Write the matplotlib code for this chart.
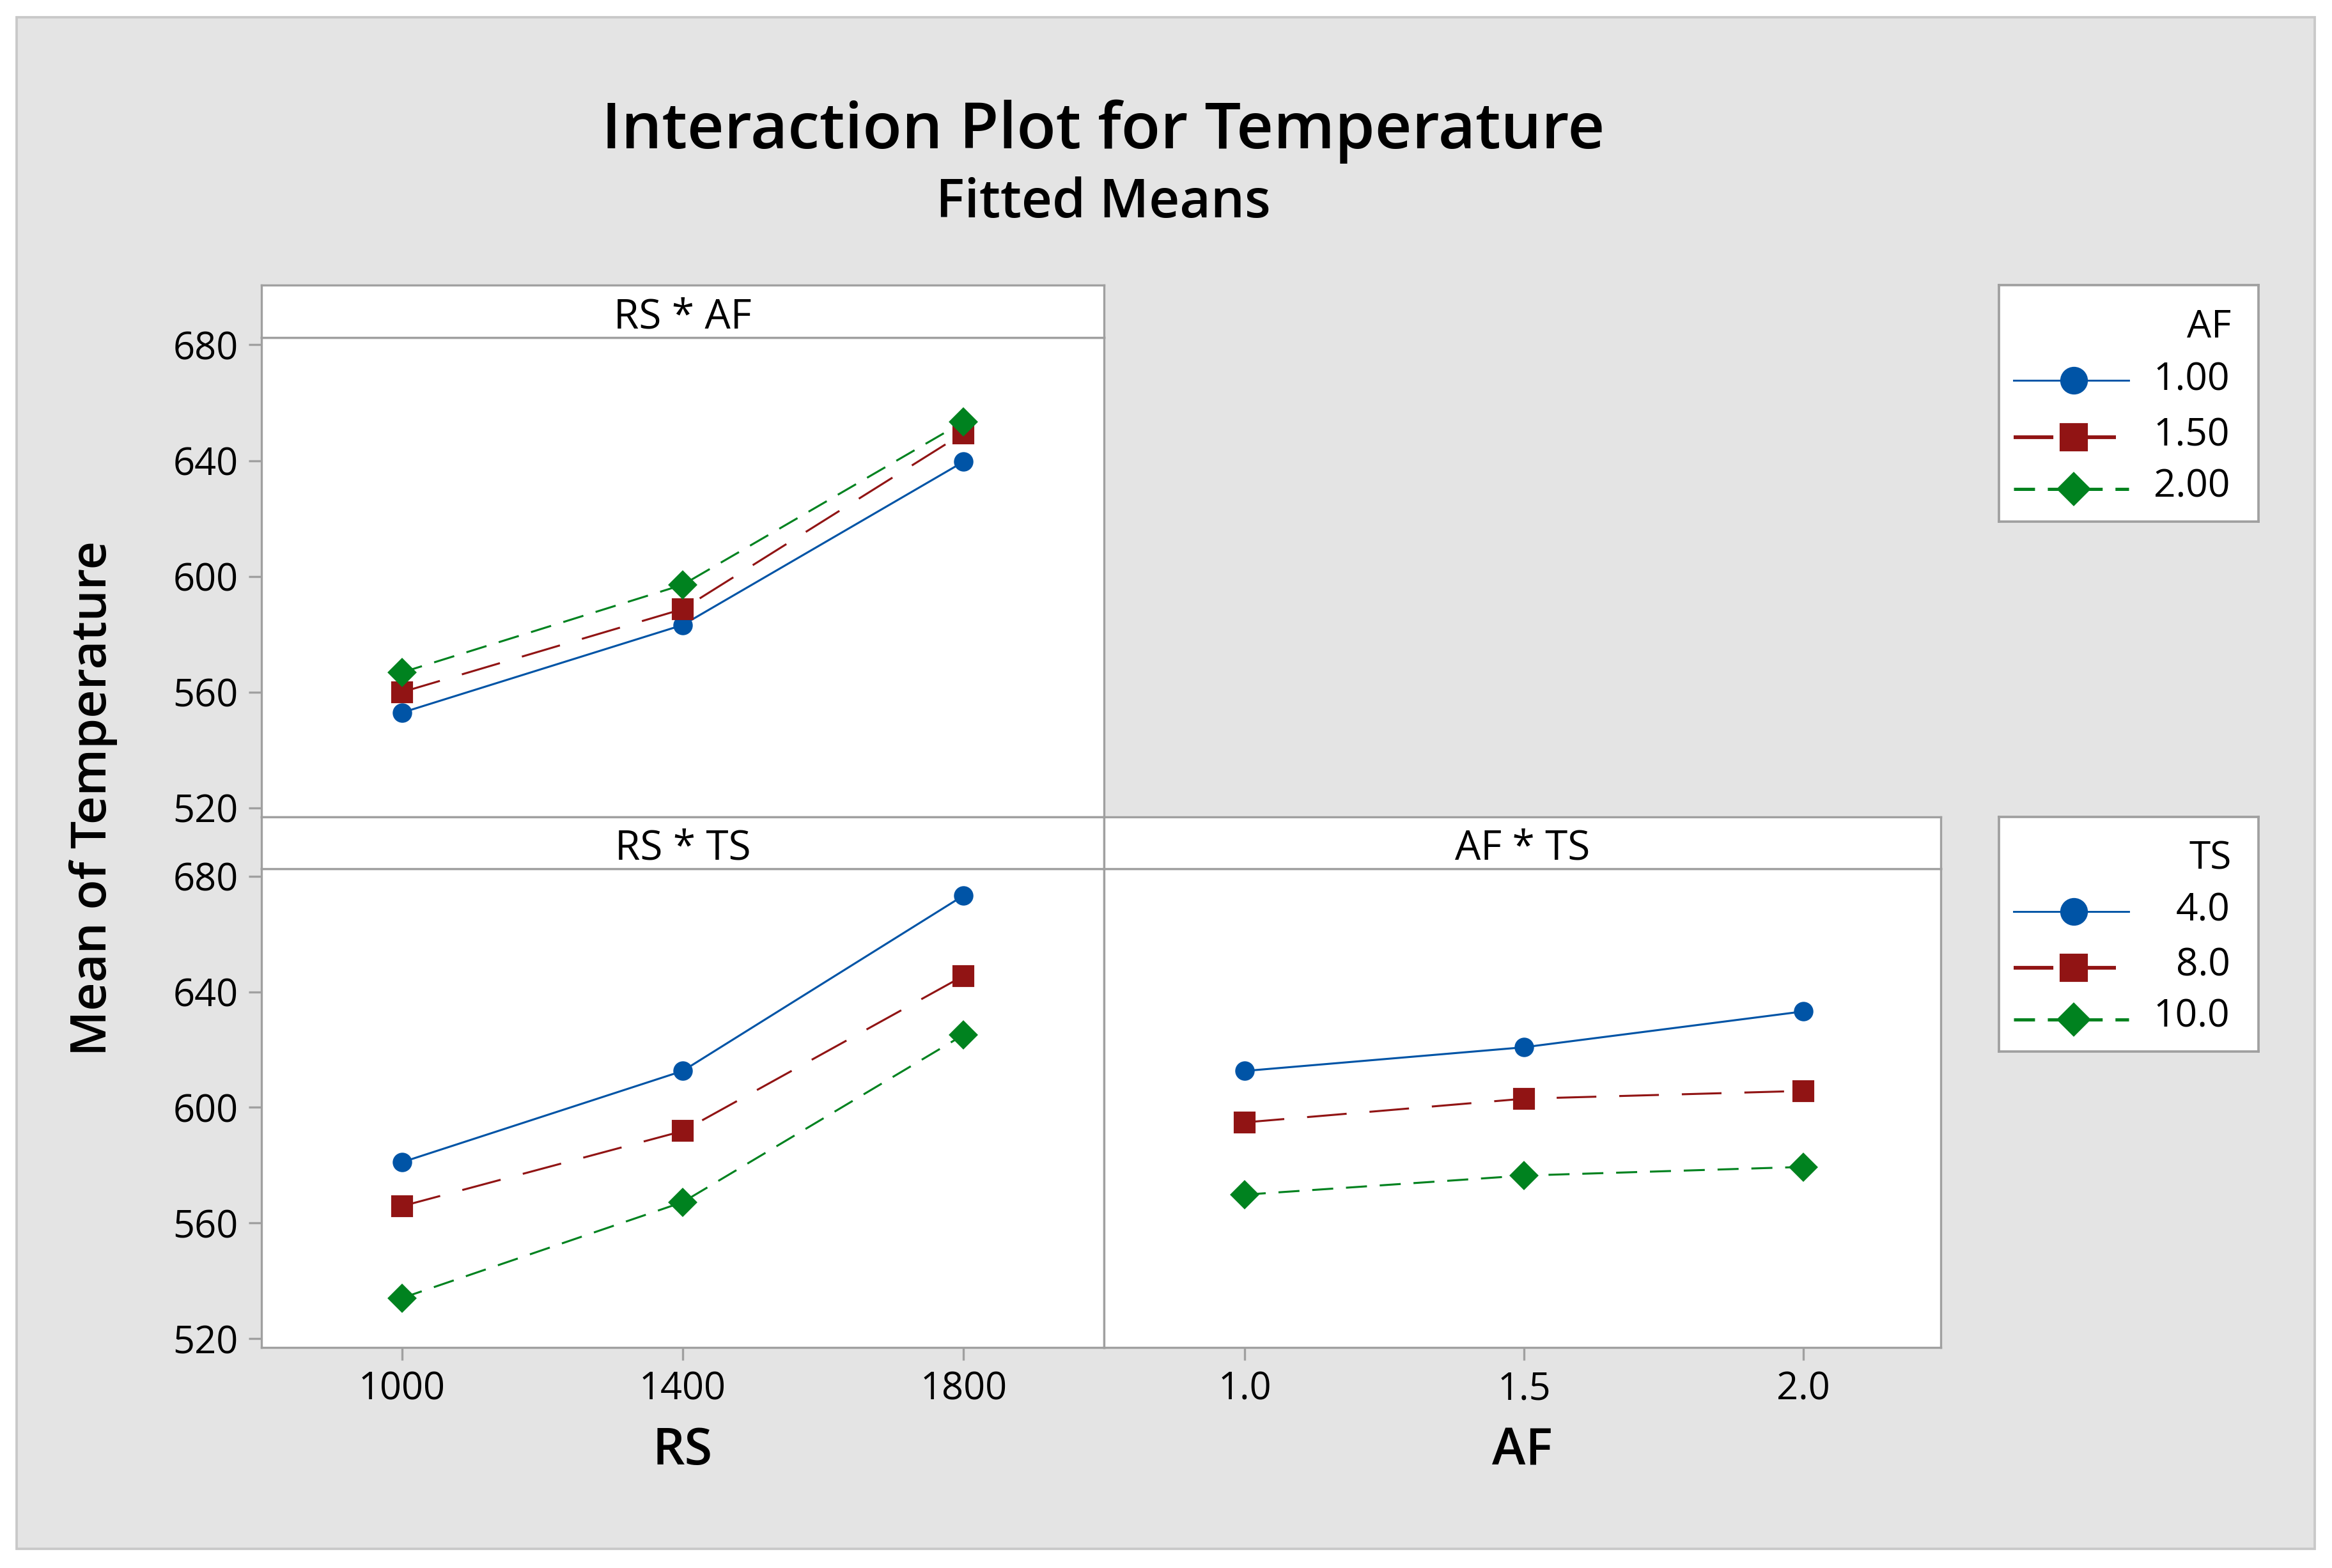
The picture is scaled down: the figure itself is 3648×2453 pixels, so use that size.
import matplotlib.pyplot as plt
from matplotlib.patches import Rectangle

plt.rcParams['font.family'] = ['Open Sans', 'DejaVu Sans']
plt.rcParams['lines.scale_dashes'] = False

# factor levels
rs_levels = [1000, 1400, 1800]
af_levels = [1.0, 1.5, 2.0]
rs_ticklabels = ['1000', '1400', '1800']
af_ticklabels = ['1.0', '1.5', '2.0']
af_names = ['1.00', '1.50', '2.00']
ts_names = ['4.0', '8.0', '10.0']
y_ticks = [520, 560, 600, 640, 680]

# fitted means, one row per level of the trace factor
rs_af_means = [[552.9, 583.2, 639.6],   # AF 1.00
               [560.0, 588.7, 649.5],   # AF 1.50
               [566.8, 597.1, 653.4]]   # AF 2.00
rs_ts_means = [[581.0, 612.6, 673.3],   # TS 4.0
               [565.8, 591.8, 645.5],   # TS 8.0
               [534.0, 567.2, 625.1]]   # TS 10.0
af_ts_means = [[612.6, 620.8, 633.2],
               [594.8, 603.0, 605.7],
               [569.8, 576.4, 579.4]]

colors = ['#0054a6', '#911414', '#00821f']
markers = ['o', 's', 'D']
msizes = [6.3, 7.0, 6.8]
styles = ['-', (0, (14.9, 8.6)), (0, (7.9, 4.8))]
leg_ms = [9.4, 9.4, 8.2]
leg_lw = [0.7, 1.4, 1.2]
grey = '#a0a0a0'

fig = plt.figure(figsize=(12.16, 8.1767), dpi=300)
fig.patches.append(Rectangle((0.00713, 0.01223), 0.9855, 0.9768, transform=fig.transFigure,
                             facecolor='#e4e4e4', edgecolor='#c8c8c8', lw=0.9, zorder=-10))

ylim = (517.0, 682.6)


def panel(rect, strip_h, title, x, rows, xlim, xticks=None, xlabels=None, yticks=True):
    ax = fig.add_axes(rect)
    ax.set_facecolor('white')
    for i, row in enumerate(rows):
        ax.plot(x, row, color=colors[i], ls=styles[i], lw=0.75, marker=markers[i],
                ms=msizes[i], mec=colors[i], mfc=colors[i])
    ax.set_xlim(xlim)
    ax.set_ylim(ylim)
    if xticks is None:
        ax.set_xticks([])
    else:
        ax.set_xticks(xticks)
        ax.set_xticklabels(xlabels)
    if yticks:
        ax.set_yticks(y_ticks)
    else:
        ax.set_yticks([])
    ax.tick_params(direction='out', length=4.7, width=0.8, color=grey, labelsize=14.3, pad=4)
    for s in ax.spines.values():
        s.set_color(grey)
        s.set_linewidth(0.8)
    l, b, w, h = rect
    st = fig.add_axes([l, b + h, w, strip_h])
    st.set_facecolor('white')
    st.set_xticks([])
    st.set_yticks([])
    for s in st.spines.values():
        s.set_color(grey)
        s.set_linewidth(0.8)
    st.text(0.5, 0.18, title, ha='center', va='baseline', fontsize=15.3, transform=st.transAxes)
    return ax


left_x, left_w = 0.1121, 0.3613
right_x, right_w = 0.4734, 0.3588
top_b, top_h, top_sh = 0.4792, 0.3057, 0.0331
bot_b, bot_h, bot_sh = 0.1408, 0.3052, 0.0330

panel([left_x, top_b, left_w, top_h], top_sh, 'RS * AF', rs_levels, rs_af_means, (800, 2000))
panel([left_x, bot_b, left_w, bot_h], bot_sh, 'RS * TS', rs_levels, rs_ts_means, (800, 2000),
      rs_levels, rs_ticklabels)
panel([right_x, bot_b, right_w, bot_h], bot_sh, 'AF * TS', af_levels, af_ts_means, (0.748, 2.246),
      af_levels, af_ticklabels, yticks=False)


def legend_box(rect, title, names):
    lg = fig.add_axes(rect)
    lg.set_facecolor('white')
    lg.set_xlim(0, 1)
    lg.set_ylim(0, 1)
    lg.set_xticks([])
    lg.set_yticks([])
    for s in lg.spines.values():
        s.set_color(grey)
        s.set_linewidth(0.9)
    lg.text(0.895, 0.778, title, ha='right', va='baseline', fontsize=14.5)
    line_y = [0.597, 0.356, 0.137]
    text_y = [0.557, 0.322, 0.104]
    for i, name in enumerate(names):
        lg.plot([0.057, 0.5], [line_y[i], line_y[i]], color=colors[i], ls=styles[i], lw=leg_lw[i])
        lg.plot([0.288], [line_y[i]], color=colors[i], marker=markers[i], ms=leg_ms[i],
                mec=colors[i], mfc=colors[i], ls='none')
        lg.text(0.89, text_y[i], name, ha='right', va='baseline', fontsize=14.5)


legend_box([0.8572, 0.6673, 0.1113, 0.1508], 'AF', af_names)
legend_box([0.8572, 0.3294, 0.1113, 0.1496], 'TS', ts_names)

fig.text(0.473, 0.9054, 'Interaction Plot for Temperature', ha='center', va='baseline',
         fontsize=24.1, weight='semibold')
fig.text(0.473, 0.8614, 'Fitted Means', ha='center', va='baseline', fontsize=20.1, weight='semibold')
fig.text(left_x + left_w / 2, 0.0746, 'RS', ha='center', va='center', fontsize=19, weight='semibold')
fig.text(right_x + right_w / 2, 0.0746, 'AF', ha='center', va='center', fontsize=19, weight='semibold')
fig.text(0.040, 0.491, 'Mean of Temperature', ha='center', va='center', rotation=90, fontsize=18.5,
         weight='semibold')

fig.savefig('out.png', dpi=300, facecolor='white')
